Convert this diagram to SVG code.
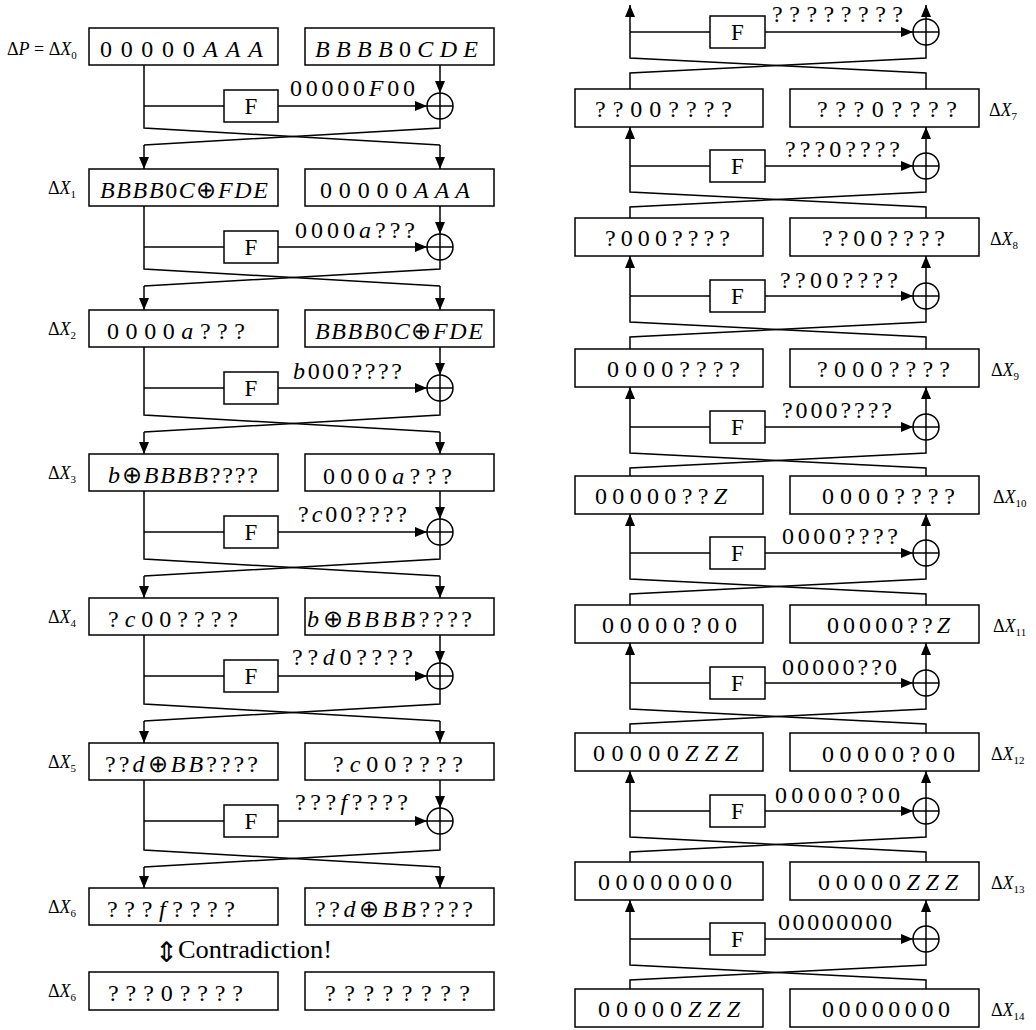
<svg xmlns="http://www.w3.org/2000/svg" width="1036" height="1030" viewBox="0 0 1036 1030" font-family="Liberation Serif, serif">
<defs>
<marker id="ar" viewBox="0 0 12 10" refX="12" refY="5" markerWidth="12" markerHeight="10" markerUnits="userSpaceOnUse" orient="auto"><path d="M0,0 L12,5 L0,10 z" fill="#000"/></marker>
<style>
.bx{fill:#fff;stroke:#000;stroke-width:1.5}
.ln{fill:none;stroke:#000;stroke-width:1.5}
.ar{fill:none;stroke:#000;stroke-width:1.5;marker-end:url(#ar)}
.t{font-family:'Liberation Serif',serif;font-size:24px;fill:#000}
.f{font-family:'Liberation Serif',serif;font-size:23px;fill:#000;text-anchor:middle}
.lb{font-family:'Liberation Serif',serif;font-size:18px;fill:#000}
.s{font-size:11px}
.i{font-style:italic}
</style>
</defs>
<rect width="1036" height="1030" fill="#fff"/>

<g id="connectors">
<path class="ln" d="M144,65 V128 L440,145"/><path class="ar" d="M440,145 V169"/>
<path class="ln" d="M440,119 V128 L144,145"/><path class="ar" d="M144,145 V169"/>
<path class="ln" d="M144,106 H224"/><path class="ar" d="M278,106 H427"/><path class="ar" d="M440,65 V93"/>
<path class="ln" d="M144,206 V269 L440,286"/><path class="ar" d="M440,286 V310"/>
<path class="ln" d="M440,260 V269 L144,286"/><path class="ar" d="M144,286 V310"/>
<path class="ln" d="M144,247 H224"/><path class="ar" d="M278,247 H427"/><path class="ar" d="M440,206 V234"/>
<path class="ln" d="M144,347 V415 L440,432"/><path class="ar" d="M440,432 V454"/>
<path class="ln" d="M440,401 V415 L144,432"/><path class="ar" d="M144,432 V454"/>
<path class="ln" d="M144,388 H224"/><path class="ar" d="M278,388 H427"/><path class="ar" d="M440,347 V375"/>
<path class="ln" d="M144,491 V559 L440,576"/><path class="ar" d="M440,576 V598"/>
<path class="ln" d="M440,545 V559 L144,576"/><path class="ar" d="M144,576 V598"/>
<path class="ln" d="M144,532 H224"/><path class="ar" d="M278,532 H427"/><path class="ar" d="M440,491 V519"/>
<path class="ln" d="M144,635 V704 L440,721"/><path class="ar" d="M440,721 V743"/>
<path class="ln" d="M440,689 V704 L144,721"/><path class="ar" d="M144,721 V743"/>
<path class="ln" d="M144,676 H224"/><path class="ar" d="M278,676 H427"/><path class="ar" d="M440,635 V663"/>
<path class="ln" d="M144,780 V850 L440,867"/><path class="ar" d="M440,867 V888"/>
<path class="ln" d="M440,834 V850 L144,867"/><path class="ar" d="M144,867 V888"/>
<path class="ln" d="M144,821 H224"/><path class="ar" d="M278,821 H427"/><path class="ar" d="M440,780 V808"/>

<path class="ln" d="M630,89 V73 L926,58 V45"/>
<path class="ar" d="M926,89 V73 L630,58 V5"/>
<path class="ln" d="M630,32 H710"/><path class="ar" d="M765,32 H913"/><path class="ar" d="M926,19 V5"/>
<path class="ln" d="M630,218 V207 L926,192 V179"/>
<path class="ar" d="M926,218 V207 L630,192 V127"/>
<path class="ln" d="M630,166 H710"/><path class="ar" d="M765,166 H913"/><path class="ar" d="M926,153 V127"/>
<path class="ln" d="M630,349 V337 L926,322 V309"/>
<path class="ar" d="M926,349 V337 L630,322 V256"/>
<path class="ln" d="M630,296 H710"/><path class="ar" d="M765,296 H913"/><path class="ar" d="M926,283 V256"/>
<path class="ln" d="M630,476 V468 L926,453 V440"/>
<path class="ar" d="M926,476 V468 L630,453 V387"/>
<path class="ln" d="M630,427 H710"/><path class="ar" d="M765,427 H913"/><path class="ar" d="M926,414 V387"/>
<path class="ln" d="M630,605 V594 L926,579 V566"/>
<path class="ar" d="M926,605 V594 L630,579 V514"/>
<path class="ln" d="M630,553 H710"/><path class="ar" d="M765,553 H913"/><path class="ar" d="M926,540 V514"/>
<path class="ln" d="M630,733 V724 L926,709 V696"/>
<path class="ar" d="M926,733 V724 L630,709 V643"/>
<path class="ln" d="M630,683 H710"/><path class="ar" d="M765,683 H913"/><path class="ar" d="M926,670 V643"/>
<path class="ln" d="M630,862 V852 L926,837 V824"/>
<path class="ar" d="M926,862 V852 L630,837 V771"/>
<path class="ln" d="M630,811 H710"/><path class="ar" d="M765,811 H913"/><path class="ar" d="M926,798 V771"/>
<path class="ln" d="M630,989 V980 L926,965 V952"/>
<path class="ar" d="M926,989 V980 L630,965 V900"/>
<path class="ln" d="M630,939 H710"/><path class="ar" d="M765,939 H913"/><path class="ar" d="M926,926 V900"/>
</g>

<g id="fL0"><rect class="bx" x="224" y="90" width="54" height="32"/><text class="f" x="251" y="114">F</text></g>
<g id="fL1"><rect class="bx" x="224" y="231" width="54" height="32"/><text class="f" x="251" y="255">F</text></g>
<g id="fL2"><rect class="bx" x="224" y="372" width="54" height="32"/><text class="f" x="251" y="396">F</text></g>
<g id="fL3"><rect class="bx" x="224" y="516" width="54" height="32"/><text class="f" x="251" y="540">F</text></g>
<g id="fL4"><rect class="bx" x="224" y="660" width="54" height="32"/><text class="f" x="251" y="684">F</text></g>
<g id="fL5"><rect class="bx" x="224" y="805" width="54" height="32"/><text class="f" x="251" y="829">F</text></g>
<g id="xL0" class="ln"><circle cx="440" cy="106" r="13"/><path d="M427,106 H453 M440,93 V119"/></g>
<g id="xL1" class="ln"><circle cx="440" cy="247" r="13"/><path d="M427,247 H453 M440,234 V260"/></g>
<g id="xL2" class="ln"><circle cx="440" cy="388" r="13"/><path d="M427,388 H453 M440,375 V401"/></g>
<g id="xL3" class="ln"><circle cx="440" cy="532" r="13"/><path d="M427,532 H453 M440,519 V545"/></g>
<g id="xL4" class="ln"><circle cx="440" cy="676" r="13"/><path d="M427,676 H453 M440,663 V689"/></g>
<g id="xL5" class="ln"><circle cx="440" cy="821" r="13"/><path d="M427,821 H453 M440,808 V834"/></g>
<g id="labelsL">
<text class="t" x="290" y="96" textLength="125" lengthAdjust="spacing">00000<tspan class="i">F</tspan>00</text>
<text class="t" x="295" y="238" textLength="120" lengthAdjust="spacing">0000<tspan class="i">a</tspan>???</text>
<text class="t" x="293" y="379" textLength="109" lengthAdjust="spacing"><tspan class="i">b</tspan>000????</text>
<text class="t" x="298" y="522" textLength="109" lengthAdjust="spacing">?<tspan class="i">c</tspan>00????</text>
<text class="t" x="292" y="665" textLength="121" lengthAdjust="spacing">??<tspan class="i">d</tspan>0????</text>
<text class="t" x="295" y="810" textLength="113" lengthAdjust="spacing">???<tspan class="i">f</tspan>????</text>
</g>

<g id="X0L"><rect class="bx" x="89" y="28" width="189" height="37"/><text class="t" x="100" y="57" textLength="163" lengthAdjust="spacing">0 0 0 0 0 <tspan class="i">A A A</tspan></text></g>
<g id="X0R"><rect class="bx" x="305" y="28" width="189" height="37"/><text class="t" x="315" y="57" textLength="163" lengthAdjust="spacing"><tspan class="i">BBBB</tspan>0<tspan class="i">CDE</tspan></text></g>
<g id="X1L"><rect class="bx" x="89" y="169" width="189" height="37"/><text class="t" x="100" y="198" textLength="168" lengthAdjust="spacing"><tspan class="i">BBBB</tspan>0<tspan class="i">C</tspan>⊕<tspan class="i">FDE</tspan></text></g>
<g id="X1R"><rect class="bx" x="305" y="169" width="189" height="37"/><text class="t" x="320" y="198" textLength="150" lengthAdjust="spacing">0 0 0 0 0 <tspan class="i">A A A</tspan></text></g>
<g id="X2L"><rect class="bx" x="89" y="310" width="189" height="37"/><text class="t" x="107" y="339" textLength="138" lengthAdjust="spacing">0 0 0 0 <tspan class="i">a</tspan> ? ? ?</text></g>
<g id="X2R"><rect class="bx" x="305" y="310" width="189" height="37"/><text class="t" x="315" y="339" textLength="168" lengthAdjust="spacing"><tspan class="i">BBBB</tspan>0<tspan class="i">C</tspan>⊕<tspan class="i">FDE</tspan></text></g>
<g id="X3L"><rect class="bx" x="89" y="454" width="189" height="37"/><text class="t" x="108" y="483" textLength="150" lengthAdjust="spacing"><tspan class="i">b</tspan>⊕<tspan class="i">BBBB</tspan>????</text></g>
<g id="X3R"><rect class="bx" x="305" y="454" width="189" height="37"/><text class="t" x="323" y="484" textLength="129" lengthAdjust="spacing">0 0 0 0 <tspan class="i">a</tspan> ? ? ?</text></g>
<g id="X4L"><rect class="bx" x="89" y="598" width="189" height="37"/><text class="t" x="108" y="627" textLength="130" lengthAdjust="spacing">? <tspan class="i">c</tspan> 0 0 ? ? ? ?</text></g>
<g id="X4R"><rect class="bx" x="305" y="598" width="189" height="37"/><text class="t" x="307" y="627" textLength="165" lengthAdjust="spacing"><tspan class="i">b</tspan>⊕<tspan class="i">BBBB</tspan>????</text></g>
<g id="X5L"><rect class="bx" x="89" y="743" width="189" height="37"/><text class="t" x="105" y="772" textLength="153" lengthAdjust="spacing">??<tspan class="i">d</tspan>⊕<tspan class="i">BB</tspan>????</text></g>
<g id="X5R"><rect class="bx" x="305" y="743" width="189" height="37"/><text class="t" x="333" y="772" textLength="130" lengthAdjust="spacing">? <tspan class="i">c</tspan> 0 0 ? ? ? ?</text></g>
<g id="X6L"><rect class="bx" x="89" y="888" width="189" height="37"/><text class="t" x="107" y="917" textLength="128" lengthAdjust="spacing">? ? ? <tspan class="i">f</tspan> ? ? ? ?</text></g>
<g id="X6R"><rect class="bx" x="305" y="888" width="189" height="37"/><text class="t" x="315" y="917" textLength="158" lengthAdjust="spacing">??<tspan class="i">d</tspan>⊕<tspan class="i">BB</tspan>????</text></g>
<g id="X6bL"><rect class="bx" x="89" y="972" width="189" height="38"/><text class="t" x="108" y="1001" textLength="135" lengthAdjust="spacing">? ? ? 0 ? ? ? ?</text></g>
<g id="X6bR"><rect class="bx" x="305" y="972" width="189" height="38"/><text class="t" x="325" y="1001" textLength="145" lengthAdjust="spacing">? ? ? ? ? ? ? ?</text></g>

<g id="contradiction">
<text x="155" y="962" font-family="DejaVu Sans, sans-serif" font-size="28" fill="#000">⇕</text>
<text x="178" y="958" font-family="Liberation Serif, serif" font-size="26" fill="#000" textLength="154" lengthAdjust="spacingAndGlyphs">Contradiction!</text>
</g>

<g id="deltaL">
<text class="lb" x="7" y="55">Δ<tspan class="i">P</tspan> = Δ<tspan class="i">X</tspan><tspan class="s" dy="4">0</tspan></text>
<text class="lb" x="48" y="194">Δ<tspan class="i">X</tspan><tspan class="s" dy="4">1</tspan></text>
<text class="lb" x="48" y="335">Δ<tspan class="i">X</tspan><tspan class="s" dy="4">2</tspan></text>
<text class="lb" x="48" y="479">Δ<tspan class="i">X</tspan><tspan class="s" dy="4">3</tspan></text>
<text class="lb" x="48" y="623">Δ<tspan class="i">X</tspan><tspan class="s" dy="4">4</tspan></text>
<text class="lb" x="48" y="768">Δ<tspan class="i">X</tspan><tspan class="s" dy="4">5</tspan></text>
<text class="lb" x="48" y="913">Δ<tspan class="i">X</tspan><tspan class="s" dy="4">6</tspan></text>
<text class="lb" x="48" y="997">Δ<tspan class="i">X</tspan><tspan class="s" dy="4">6</tspan></text>
</g>

<g id="fR0"><rect class="bx" x="710" y="16" width="55" height="32"/><text class="f" x="737.5" y="40">F</text></g>
<g id="fR1"><rect class="bx" x="710" y="150" width="55" height="32"/><text class="f" x="737.5" y="174">F</text></g>
<g id="fR2"><rect class="bx" x="710" y="280" width="55" height="32"/><text class="f" x="737.5" y="304">F</text></g>
<g id="fR3"><rect class="bx" x="710" y="411" width="55" height="32"/><text class="f" x="737.5" y="435">F</text></g>
<g id="fR4"><rect class="bx" x="710" y="537" width="55" height="32"/><text class="f" x="737.5" y="561">F</text></g>
<g id="fR5"><rect class="bx" x="710" y="667" width="55" height="32"/><text class="f" x="737.5" y="691">F</text></g>
<g id="fR6"><rect class="bx" x="710" y="795" width="55" height="32"/><text class="f" x="737.5" y="819">F</text></g>
<g id="fR7"><rect class="bx" x="710" y="923" width="55" height="32"/><text class="f" x="737.5" y="947">F</text></g>
<g id="xR0" class="ln"><circle cx="926" cy="32" r="13"/><path d="M913,32 H939 M926,19 V45"/></g>
<g id="xR1" class="ln"><circle cx="926" cy="166" r="13"/><path d="M913,166 H939 M926,153 V179"/></g>
<g id="xR2" class="ln"><circle cx="926" cy="296" r="13"/><path d="M913,296 H939 M926,283 V309"/></g>
<g id="xR3" class="ln"><circle cx="926" cy="427" r="13"/><path d="M913,427 H939 M926,414 V440"/></g>
<g id="xR4" class="ln"><circle cx="926" cy="553" r="13"/><path d="M913,553 H939 M926,540 V566"/></g>
<g id="xR5" class="ln"><circle cx="926" cy="683" r="13"/><path d="M913,683 H939 M926,670 V696"/></g>
<g id="xR6" class="ln"><circle cx="926" cy="811" r="13"/><path d="M913,811 H939 M926,798 V824"/></g>
<g id="xR7" class="ln"><circle cx="926" cy="939" r="13"/><path d="M913,939 H939 M926,926 V952"/></g>
<g id="labelsR">
<text class="t" x="772" y="22" textLength="131" lengthAdjust="spacing">? ? ? ? ? ? ? ?</text>
<text class="t" x="785" y="157" textLength="115" lengthAdjust="spacing">???0????</text>
<text class="t" x="780" y="288" textLength="118" lengthAdjust="spacing">??00????</text>
<text class="t" x="782" y="418" textLength="110" lengthAdjust="spacing">?000????</text>
<text class="t" x="782" y="544" textLength="116" lengthAdjust="spacing">0000????</text>
<text class="t" x="782" y="675" textLength="115" lengthAdjust="spacing">00000??0</text>
<text class="t" x="775" y="803" textLength="125" lengthAdjust="spacing">0 0 0 0 0 ? 0 0</text>
<text class="t" x="778" y="930" textLength="114" lengthAdjust="spacing">00000000</text>
</g>

<g id="X7L"><rect class="bx" x="575" y="89" width="188" height="38"/><text class="t" x="595" y="117" textLength="137" lengthAdjust="spacing">? ? 0 0 ? ? ? ?</text></g>
<g id="X7R"><rect class="bx" x="790" y="89" width="189" height="38"/><text class="t" x="817" y="117" textLength="140" lengthAdjust="spacing">? ? ? 0 ? ? ? ?</text></g>
<g id="X8L"><rect class="bx" x="575" y="218" width="188" height="38"/><text class="t" x="605" y="246" textLength="125" lengthAdjust="spacing">?000????</text></g>
<g id="X8R"><rect class="bx" x="790" y="218" width="189" height="38"/><text class="t" x="822" y="246" textLength="123" lengthAdjust="spacing">??00????</text></g>
<g id="X9L"><rect class="bx" x="575" y="349" width="188" height="38"/><text class="t" x="607" y="377" textLength="133" lengthAdjust="spacing">0000????</text></g>
<g id="X9R"><rect class="bx" x="790" y="349" width="189" height="38"/><text class="t" x="817" y="377" textLength="133" lengthAdjust="spacing">?000????</text></g>
<g id="X10L"><rect class="bx" x="575" y="476" width="188" height="38"/><text class="t" x="595" y="504" textLength="132" lengthAdjust="spacing">00000??<tspan class="i">Z</tspan></text></g>
<g id="X10R"><rect class="bx" x="790" y="476" width="189" height="38"/><text class="t" x="822" y="504" textLength="133" lengthAdjust="spacing">0000????</text></g>
<g id="X11L"><rect class="bx" x="575" y="605" width="188" height="38"/><text class="t" x="602" y="633" textLength="135" lengthAdjust="spacing">0 0 0 0 0 ? 0 0</text></g>
<g id="X11R"><rect class="bx" x="790" y="605" width="189" height="38"/><text class="t" x="827" y="633" textLength="123" lengthAdjust="spacing">00000??<tspan class="i">Z</tspan></text></g>
<g id="X12L"><rect class="bx" x="575" y="733" width="188" height="38"/><text class="t" x="593" y="761" textLength="145" lengthAdjust="spacing">0 0 0 0 0 <tspan class="i">Z Z Z</tspan></text></g>
<g id="X12R"><rect class="bx" x="790" y="733" width="189" height="38"/><text class="t" x="822" y="762" textLength="133" lengthAdjust="spacing">0 0 0 0 0 ? 0 0</text></g>
<g id="X13L"><rect class="bx" x="575" y="862" width="188" height="38"/><text class="t" x="598" y="890" textLength="134" lengthAdjust="spacing">0 0 0 0 0 0 0 0</text></g>
<g id="X13R"><rect class="bx" x="790" y="862" width="189" height="38"/><text class="t" x="818" y="890" textLength="140" lengthAdjust="spacing">0 0 0 0 0 <tspan class="i">Z Z Z</tspan></text></g>
<g id="X14L"><rect class="bx" x="575" y="989" width="188" height="38"/><text class="t" x="598" y="1017" textLength="142" lengthAdjust="spacing">0 0 0 0 0 <tspan class="i">Z Z Z</tspan></text></g>
<g id="X14R"><rect class="bx" x="790" y="989" width="189" height="38"/><text class="t" x="822" y="1017" textLength="128" lengthAdjust="spacing">0 0 0 0 0 0 0 0</text></g>

<g id="deltaR">
<text class="lb" x="989" y="116">Δ<tspan class="i">X</tspan><tspan class="s" dy="4">7</tspan></text>
<text class="lb" x="990" y="245">Δ<tspan class="i">X</tspan><tspan class="s" dy="4">8</tspan></text>
<text class="lb" x="991" y="376">Δ<tspan class="i">X</tspan><tspan class="s" dy="4">9</tspan></text>
<text class="lb" x="993" y="503">Δ<tspan class="i">X</tspan><tspan class="s" dy="4">10</tspan></text>
<text class="lb" x="993" y="632">Δ<tspan class="i">X</tspan><tspan class="s" dy="4">11</tspan></text>
<text class="lb" x="991" y="760">Δ<tspan class="i">X</tspan><tspan class="s" dy="4">12</tspan></text>
<text class="lb" x="991" y="889">Δ<tspan class="i">X</tspan><tspan class="s" dy="4">13</tspan></text>
<text class="lb" x="991" y="1016">Δ<tspan class="i">X</tspan><tspan class="s" dy="4">14</tspan></text>
</g>
</svg>
